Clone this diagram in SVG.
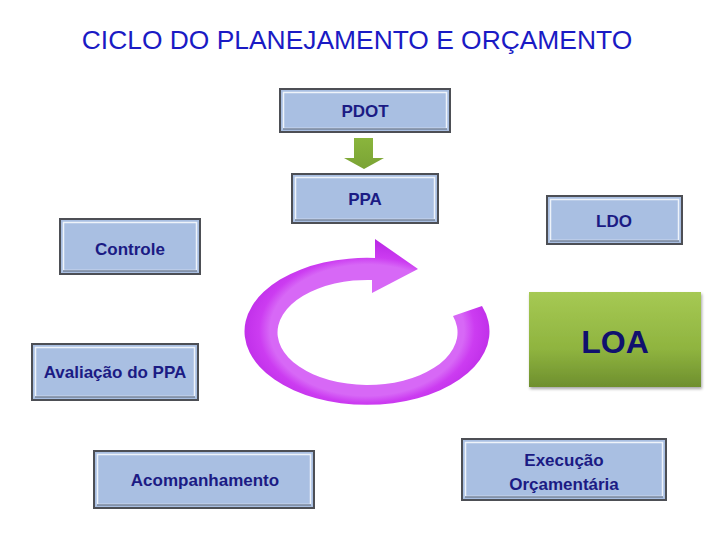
<svg xmlns="http://www.w3.org/2000/svg" width="720" height="540" viewBox="0 0 720 540">
<defs>
<style>
.box{fill:#a9bfe2;stroke:#4d4f55;stroke-width:2}
.bev{fill:none;stroke:#eef3fa;stroke-width:1.5}
.bevd{fill:none;stroke:#6f7f99;stroke-width:1.5}
.lbl{font-family:"Liberation Sans",Arial,sans-serif;font-weight:bold;font-size:17px;fill:#1b1b84;text-anchor:middle}
</style>
<linearGradient id="gGreen" x1="0" y1="0" x2="0" y2="1">
<stop offset="0" stop-color="#a6c954"/>
<stop offset="0.6" stop-color="#8fb43f"/>
<stop offset="1" stop-color="#6e8f2e"/>
</linearGradient>
<linearGradient id="gArr" x1="0" y1="0" x2="0" y2="1">
<stop offset="0" stop-color="#8ab53c"/>
<stop offset="1" stop-color="#7aa335"/>
</linearGradient>
<radialGradient id="gMag" cx="0.5" cy="0.55" r="0.55">
<stop offset="0.72" stop-color="#d768f6"/>
<stop offset="0.8" stop-color="#cc3cf1"/>
<stop offset="1" stop-color="#b826e4"/>
</radialGradient>
<filter id="sh" x="-10%" y="-10%" width="130%" height="130%">
<feDropShadow dx="1" dy="2" stdDeviation="1.5" flood-color="#000" flood-opacity="0.35"/>
</filter>
</defs>
<rect width="720" height="540" fill="#ffffff"/>
<text x="357" y="49" font-family="Liberation Sans,Arial,sans-serif" font-size="26.4" fill="#1a1ac4" text-anchor="middle">CICLO DO PLANEJAMENTO E ORÇAMENTO</text>

<g id="connectors">
<path id="pdot-ppa" d="M354,138 H373 V158 H384 L364,169 L344,158 H354 Z" fill="url(#gArr)"/>
<path id="ciclo" d="M482,306 A122.5,73.5 0 1 1 375,258 L375,239 L418,269 L372,293 L372,280 A90,52.5 0 1 0 453,316 Z" fill="url(#gMag)"/>
</g>

<g id="pdot">
<rect class="box" x="280" y="89" width="170" height="43"/>
<rect class="bev" x="283.5" y="92.5" width="163" height="36"/>
<line class="bevd" x1="283" y1="129" x2="447" y2="129"/>
<text class="lbl" x="365" y="117">PDOT</text>
</g>
<g id="ppa">
<rect class="box" x="292" y="174" width="146" height="49"/>
<rect class="bev" x="295.5" y="177.5" width="139" height="42"/>
<line class="bevd" x1="295" y1="220" x2="435" y2="220"/>
<text class="lbl" x="365" y="205">PPA</text>
</g>
<g id="ldo">
<rect class="box" x="547" y="196" width="135" height="48"/>
<rect class="bev" x="550.5" y="199.5" width="128" height="41"/>
<line class="bevd" x1="550" y1="241" x2="679" y2="241"/>
<text class="lbl" x="614" y="227">LDO</text>
</g>
<g id="loa">
<rect x="529" y="292" width="172" height="95" fill="url(#gGreen)" filter="url(#sh)"/>
<text x="615" y="353" font-family="Liberation Sans,Arial,sans-serif" font-weight="bold" font-size="32" fill="#10106e" text-anchor="middle">LOA</text>
</g>
<g id="controle">
<rect class="box" x="60" y="219" width="140" height="55"/>
<rect class="bev" x="63.5" y="222.5" width="133" height="48"/>
<line class="bevd" x1="63" y1="271" x2="197" y2="271"/>
<text class="lbl" x="130" y="255">Controle</text>
</g>
<g id="avaliacao">
<rect class="box" x="32" y="344" width="166" height="56"/>
<rect class="bev" x="35.5" y="347.5" width="159" height="49"/>
<line class="bevd" x1="35" y1="397" x2="195" y2="397"/>
<text class="lbl" x="115" y="378">Avaliação do PPA</text>
</g>
<g id="acompanhamento">
<rect class="box" x="94" y="451" width="220" height="57"/>
<rect class="bev" x="97.5" y="454.5" width="213" height="50"/>
<line class="bevd" x1="97" y1="505" x2="311" y2="505"/>
<text class="lbl" x="205" y="486">Acompanhamento</text>
</g>
<g id="execucao">
<rect class="box" x="462" y="439" width="204" height="61"/>
<rect class="bev" x="465.5" y="442.5" width="197" height="54"/>
<line class="bevd" x1="465" y1="497" x2="663" y2="497"/>
<text class="lbl" x="564" y="466">Execução</text>
<text class="lbl" x="564" y="490">Orçamentária</text>
</g>
</svg>
